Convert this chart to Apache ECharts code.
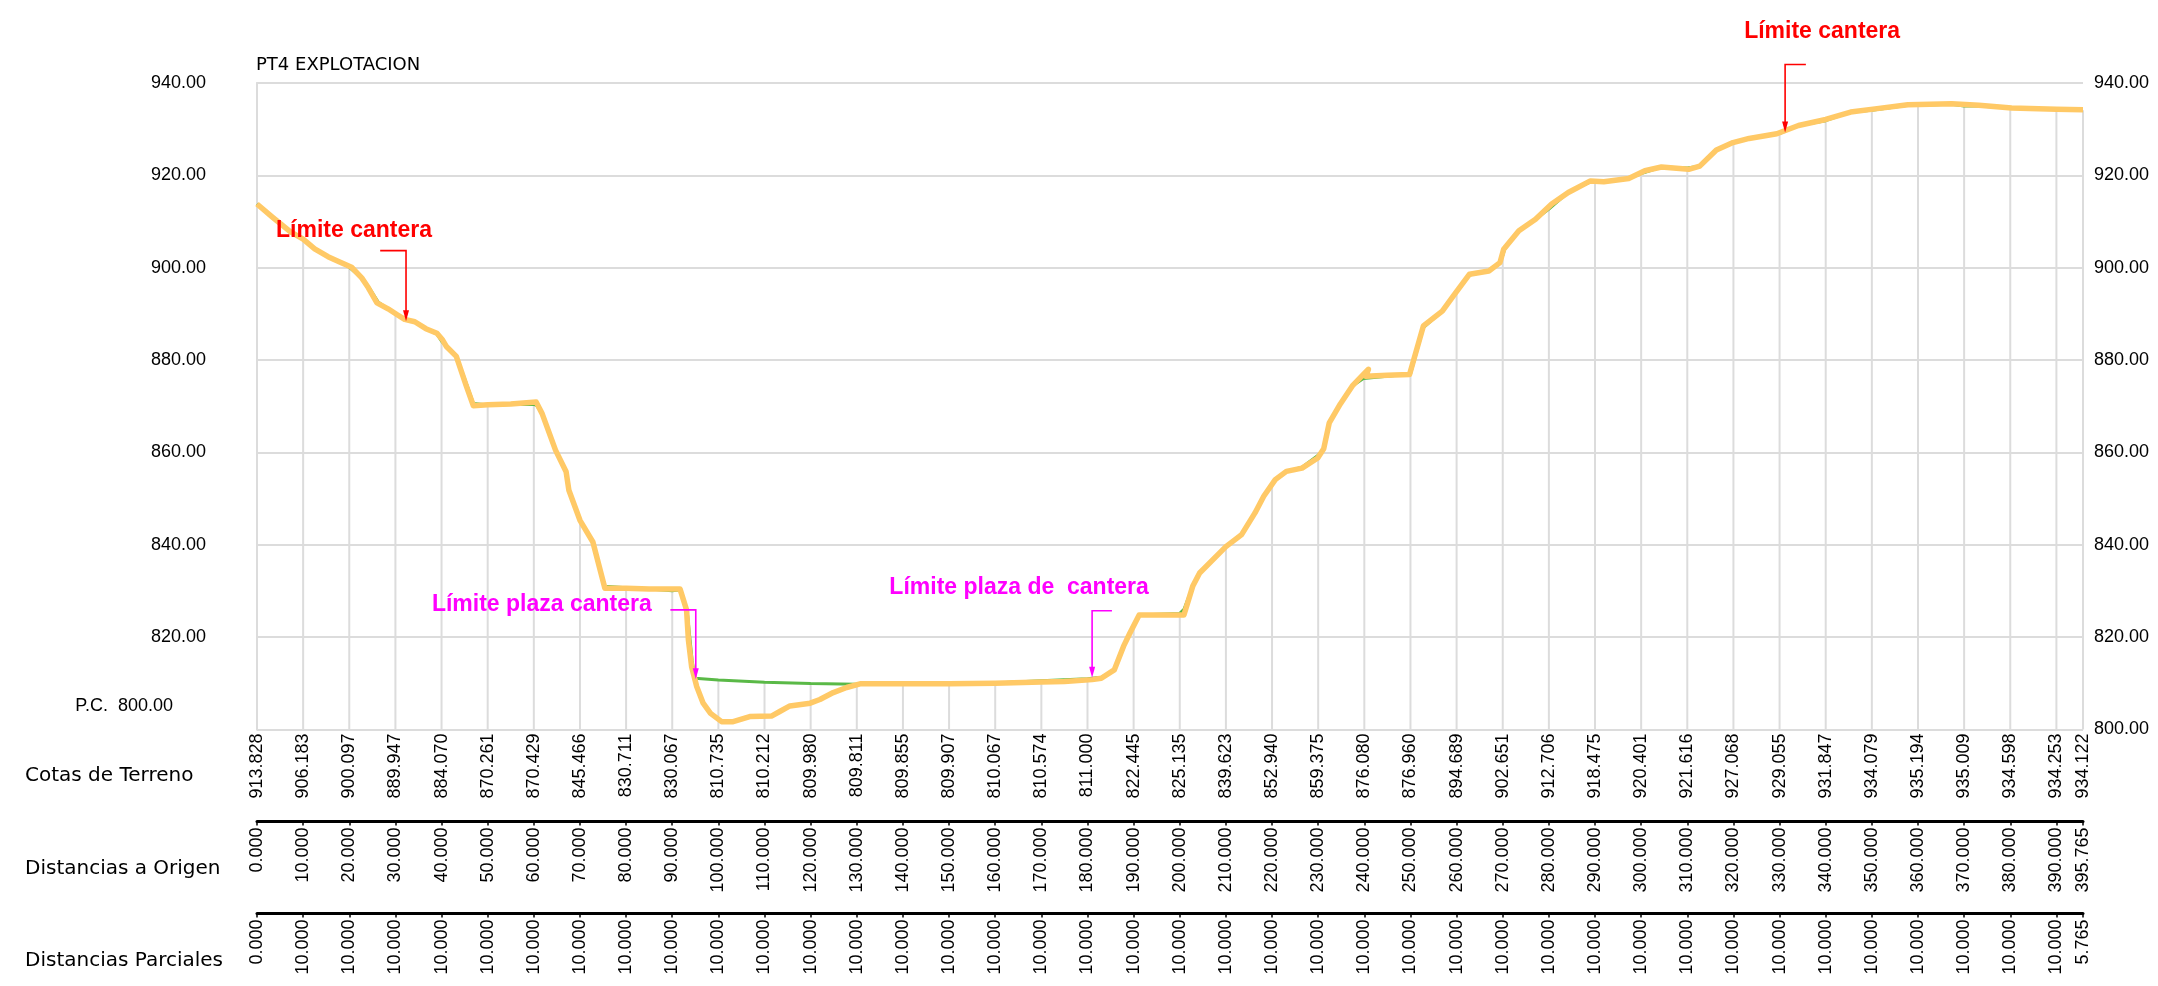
<!DOCTYPE html>
<html>
<head>
<meta charset="utf-8">
<title>PT4 EXPLOTACION</title>
<script src="https://cdn.jsdelivr.net/npm/echarts@6/dist/echarts.min.js"></script>
<style>
  html, body { margin: 0; padding: 0; background: #fff; }
  #chart { width: 2158px; height: 986px; }
</style>
</head>
<body>
<div id="chart"></div>
<script>
// perfiles: estaciones cada 10 m
const stations = [0, 10, 20, 30, 40, 50, 60, 70, 80, 90, 100, 110, 120, 130, 140, 150, 160, 170, 180, 190,
  200, 210, 220, 230, 240, 250, 260, 270, 280, 290, 300, 310, 320, 330, 340, 350, 360, 370, 380, 390, 395.765];
const cotas = [913.828, 906.183, 900.097, 889.947, 884.070, 870.261, 870.429, 845.466, 830.711, 830.067,
  810.735, 810.212, 809.980, 809.811, 809.855, 809.907, 810.067, 810.574, 811.000, 822.445,
  825.135, 839.623, 852.940, 859.375, 876.080, 876.960, 894.689, 902.651, 912.706, 918.475,
  920.401, 921.616, 927.068, 929.055, 931.847, 934.079, 935.194, 935.009, 934.598, 934.253, 934.122];
const parciales = [0, 10, 10, 10, 10, 10, 10, 10, 10, 10, 10, 10, 10, 10, 10, 10, 10, 10, 10, 10,
  10, 10, 10, 10, 10, 10, 10, 10, 10, 10, 10, 10, 10, 10, 10, 10, 10, 10, 10, 10, 5.765];

// terreno (verde)
const terreno = [[0, 913.828], [3.4, 910.9], [7.2, 907.8], [10, 906.183], [12.5, 904.1], [15.4, 902.4],
  [17.8, 901.3], [20, 900.097], [22.9, 897.6], [24.5, 895.4], [26.3, 892.5], [28.4, 891.1], [30, 889.947],
  [32, 888.8], [34.2, 888.3], [36.6, 886.8], [39, 885.6], [40, 884.070], [41, 883.0], [43.4, 880.4],
  [45.5, 874.6], [46.9, 870.6], [50, 870.261], [55, 870.4], [60, 870.429], [60.6, 870.2], [61.8, 868.4],
  [64.7, 860.5], [67, 855.8], [67.6, 851.8], [70, 845.466], [72.8, 840.6], [75.4, 831.0], [80, 830.711],
  [85, 830.4], [90, 830.067], [91.6, 830.2], [93.2, 826.0], [94.3, 815.0], [94.9, 811.1], [100, 810.735],
  [110, 810.212], [120, 809.980], [130, 809.811], [140, 809.855], [150, 809.907], [160, 810.067],
  [170, 810.574], [180, 811.000], [183, 811.3], [185.8, 812.9], [187.8, 818.0], [189.2, 820.9],
  [191.2, 824.8], [200, 825.135], [200.9, 826.0], [202.8, 831.0], [204.3, 833.9], [210, 839.623],
  [213.4, 842.2], [216.3, 846.9], [218.2, 850.5], [220, 852.940], [220.7, 854.1], [223.1, 855.9],
  [226.5, 856.8], [230, 859.375], [231.2, 860.8], [232.4, 866.4], [234.8, 870.5], [237.4, 874.4],
  [239.8, 876.0], [240, 876.080], [250, 876.960], [252.8, 887.0], [256.9, 890.6], [259.3, 893.9],
  [260, 894.689], [262.8, 898.4], [267, 899.3], [269.4, 901.1], [270, 902.651], [270.4, 904.0],
  [273.5, 908.0], [277.1, 910.5], [280, 912.706], [284.2, 916.3], [289, 918.6], [290, 918.475],
  [291.9, 918.6], [297.3, 919.3], [300, 920.401], [304.4, 921.8], [310, 921.616], [312.7, 922.0],
  [316.3, 925.5], [320, 927.068], [323.4, 928.0], [329.4, 929.0], [330, 929.055], [334.1, 930.8],
  [340, 931.847], [345.4, 933.7], [350, 934.079], [357.8, 935.2], [360, 935.194], [367.3, 935.4],
  [370, 935.009], [373.2, 935.0], [380, 934.598], [390, 934.253], [395.765, 934.122]];

// perfil actual (naranja)
const actual = [[0, 913.8], [3.4, 910.9], [7.2, 907.8], [10, 906.2], [12.5, 904.1], [15.4, 902.4],
  [17.8, 901.3], [20.5, 900.1], [22.7, 897.8], [24.1, 895.7], [26, 892.4], [28.4, 891.1], [30.4, 889.8],
  [32, 888.8], [34.2, 888.3], [36.6, 886.8], [39, 885.8], [40.2, 884.4], [41, 883.0], [43.2, 880.8],
  [45.3, 874.6], [46.9, 870.1], [50, 870.3], [55, 870.5], [60.5, 870.9], [61.8, 868.4], [64.7, 860.5],
  [67, 855.8], [67.6, 851.8], [70, 845.3], [72.8, 840.6], [75.4, 830.6], [80, 830.6], [85, 830.4],
  [91.7, 830.4], [93.1, 825.9], [93.5, 819.4], [94.2, 813.6], [95.3, 809.3], [96.7, 805.7], [98.3, 803.5],
  [100.7, 801.7], [103.2, 801.7], [106.8, 802.8], [111.5, 802.9], [113.3, 803.9], [115.5, 805.1],
  [119.9, 805.7], [122, 806.5], [124.9, 808.0], [127.8, 809.1], [130.7, 809.9], [140, 809.9],
  [150, 809.9], [160, 810.0], [170, 810.3], [175, 810.4], [181, 810.8], [183, 811.1], [185.8, 812.9],
  [187.8, 818.0], [189.2, 820.9], [191.2, 824.8], [200.9, 824.8], [202.8, 831.0], [204.3, 833.9],
  [210, 839.6], [213.4, 842.2], [216.3, 846.9], [218.2, 850.5], [220.7, 854.1], [223.1, 855.9],
  [226.5, 856.6], [229.9, 858.8], [231.2, 860.8], [232.4, 866.4], [234.8, 870.5], [237.4, 874.4],
  [239.8, 876.9], [240.9, 878.0], [240.3, 876.5], [245, 876.7], [249.8, 876.9], [252.8, 887.4],
  [256.9, 890.6], [259.3, 893.9], [262.8, 898.6], [267, 899.3], [269.4, 901.1], [270.2, 904.0],
  [273.5, 908.0], [277.1, 910.5], [280.6, 913.8], [284.2, 916.3], [289, 918.8], [291.9, 918.6],
  [297.3, 919.3], [300.8, 921.0], [304.4, 921.8], [310.3, 921.3], [312.7, 922.0], [316.3, 925.5],
  [319.9, 927.1], [323.4, 928.0], [329.4, 929.0], [334.1, 930.8], [340, 932.1], [345.4, 933.7],
  [350.7, 934.4], [357.8, 935.3], [367.3, 935.5], [373.2, 935.2], [380.3, 934.6], [390, 934.3],
  [395.765, 934.2]];

// anotaciones: flecha vertical en dist, desde top hasta tip; gancho horizontal hasta hook
const annotations = [
  { label: 'Límite cantera', color: '#ff0000', dist: 32.3, top: 903.7, tip: 888.4, hook: 26.7 },
  { label: 'Límite plaza cantera', color: '#ff00ff', dist: 95.1, top: 825.9, tip: 810.9, hook: 89.6 },
  { label: 'Límite plaza de  cantera', color: '#ff00ff', dist: 181.0, top: 825.7, tip: 811.2, hook: 185.3 },
  { label: 'Límite cantera', color: '#ff0000', dist: 331.2, top: 944.0, tip: 929.3, hook: 335.7 }
];
// desplazamiento del texto respecto al extremo superior de la flecha (px)
const annotationText = [
  { dx: -52, dy: -20, align: 'center' },
  { dx: -44, dy: -5, align: 'right' },
  { dx: -73, dy: -23, align: 'center' },
  { dx: 37, dy: -33, align: 'center' }
];

const rowLabels = ['Cotas de Terreno', 'Distancias a Origen', 'Distancias Parciales'];

const chart = echarts.init(document.getElementById('chart'));

const GRID = '#dcdcdc';
const labelFont = 'Liberation Sans';

function stationIndex(v) {
  return stations.findIndex((s) => Math.abs(s - v) < 1e-6);
}

function tableAxis(offset, fmt, showLine) {
  return {
    type: 'value',
    gridIndex: 0,
    position: 'bottom',
    offset: offset,
    min: 0,
    max: 395.765,
    interval: 10,
    axisLine: { show: showLine, onZero: false, lineStyle: { color: '#000', width: 3 } },
    axisTick: { show: showLine, length: 4, lineStyle: { color: '#000', width: 1.5 } },
    splitLine: { show: false },
    axisLabel: {
      rotate: 90,
      margin: showLine ? 6 : 4,
      showMinLabel: true,
      showMaxLabel: true,
      fontFamily: labelFont,
      fontSize: 18,
      color: '#000',
      formatter: (v) => {
        const i = stationIndex(v);
        return i < 0 ? '' : fmt(i);
      }
    }
  };
}

const option = {
  animation: false,
  backgroundColor: '#fff',
  title: {
    text: 'PT4 EXPLOTACION',
    left: 256,
    top: 56,
    padding: 0,
    textStyle: { fontFamily: 'DejaVu Sans', fontSize: 18, fontWeight: 'normal', color: '#000' }
  },
  grid: { left: 257, right: 75, top: 83, bottom: 256.5, containLabel: false },
  xAxis: [
    tableAxis(0, (i) => cotas[i].toFixed(3), false),
    tableAxis(92, (i) => stations[i].toFixed(3), true),
    tableAxis(184, (i) => parciales[i].toFixed(3), true)
  ],
  yAxis: [
    {
      type: 'value',
      position: 'left',
      min: 800,
      max: 940,
      interval: 20,
      axisLine: { show: true, lineStyle: { color: GRID, width: 2 } },
      axisTick: { show: false },
      splitLine: { show: true, lineStyle: { color: GRID, width: 2 } },
      axisLabel: {
        margin: 51,
        fontFamily: labelFont,
        fontSize: 18,
        color: '#000',
        formatter: (v) => (v === 800 ? '{pc|P.C.  800.00}' : v.toFixed(2)),
        rich: {
          pc: { fontFamily: labelFont, fontSize: 18, color: '#000', padding: [0, 33, 46, 0] }
        }
      }
    },
    {
      type: 'value',
      position: 'right',
      min: 800,
      max: 940,
      interval: 20,
      axisLine: { show: true, lineStyle: { color: GRID, width: 2 } },
      axisTick: { show: false },
      splitLine: { show: false },
      axisLabel: {
        margin: 11,
        fontFamily: labelFont,
        fontSize: 18,
        color: '#000',
        formatter: (v) => v.toFixed(2)
      }
    }
  ],
  graphic: rowLabels.map((t, i) => ({
    type: 'text',
    x: 25,
    y: [776, 869, 961][i],
    style: { text: t, fill: '#000', font: '20px "DejaVu Sans"', verticalAlign: 'middle' }
  })),
  series: [
    {
      // líneas verticales de cada estación hasta la cota del terreno
      type: 'custom',
      z: 1,
      silent: true,
      data: stations.map((d, i) => [d, cotas[i]]),
      renderItem: (params, api) => {
        const base = api.coord([api.value(0), 800]);
        const top = api.coord([api.value(0), api.value(1)]);
        return {
          type: 'line',
          shape: { x1: base[0], y1: base[1], x2: top[0], y2: top[1] },
          style: { stroke: GRID, lineWidth: 2 }
        };
      }
    },
    {
      name: 'Terreno',
      type: 'line',
      z: 2,
      data: terreno,
      showSymbol: false,
      silent: true,
      lineStyle: { color: '#5ab947', width: 3 }
    },
    {
      name: 'Actual',
      type: 'line',
      z: 3,
      data: actual,
      showSymbol: false,
      silent: true,
      lineStyle: { color: '#ffc966', width: 5.5, join: 'round' }
    },
    {
      type: 'custom',
      z: 4,
      silent: true,
      clip: false,
      data: annotations.map((a) => [a.dist, a.tip]),
      renderItem: (params, api) => {
        const a = annotations[params.dataIndex];
        const t = annotationText[params.dataIndex];
        const top = api.coord([a.dist, a.top]);
        const tip = api.coord([a.dist, a.tip]);
        const hook = api.coord([a.hook, a.top]);
        return {
          type: 'group',
          children: [
            {
              type: 'polyline',
              shape: { points: [hook, top, [tip[0], tip[1] - 9]] },
              style: { stroke: a.color, lineWidth: 1.6, fill: null }
            },
            {
              type: 'polygon',
              shape: { points: [[tip[0] - 3, tip[1] - 11], [tip[0] + 3, tip[1] - 11], [tip[0], tip[1]]] },
              style: { fill: a.color }
            },
            {
              type: 'text',
              x: top[0] + t.dx,
              y: top[1] + t.dy,
              style: {
                text: a.label,
                fill: a.color,
                font: 'bold 23px "Liberation Sans"',
                align: t.align,
                verticalAlign: 'middle'
              }
            }
          ]
        };
      }
    }
  ]
};

chart.setOption(option);
</script>
</body>
</html>
